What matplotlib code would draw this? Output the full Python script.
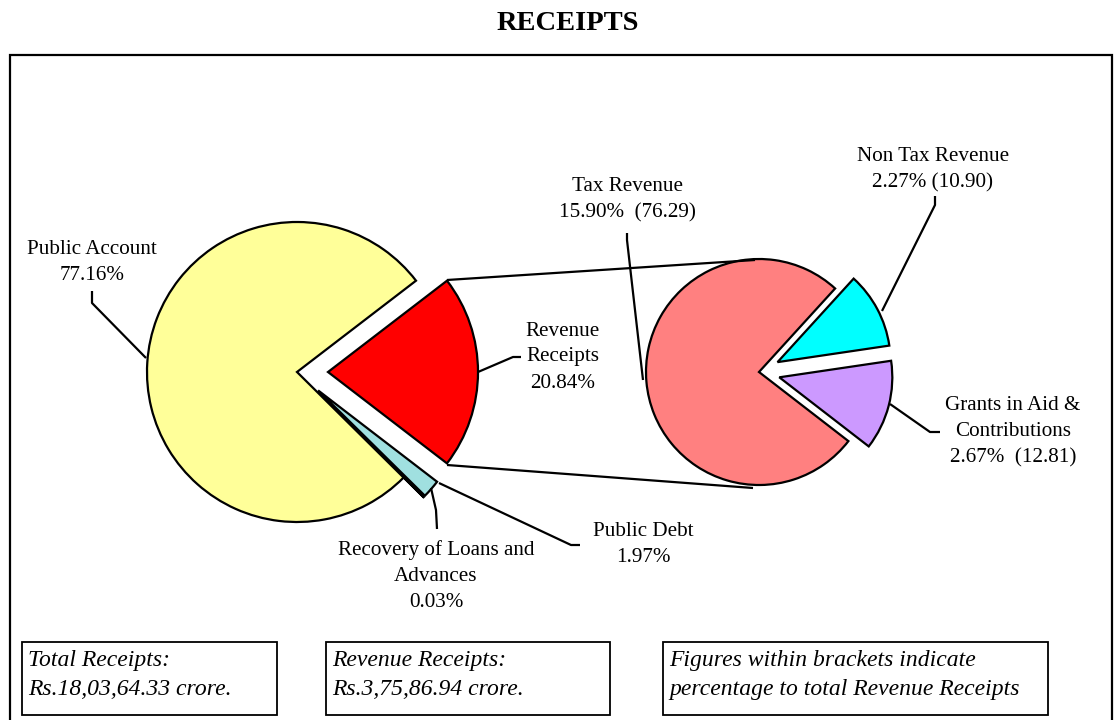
#!/usr/bin/env python3
"""Receipts: pie-of-pie breakdown of total receipts and revenue receipts."""

import matplotlib.pyplot as plt

plt.rcParams["font.family"] = ["Liberation Serif", "DejaVu Serif"]

W, H = 1114, 720

# Left pie: share of total receipts (%)
receipt_labels = ["Revenue\nReceipts", "Public Debt", "Recovery of Loans and\nAdvances", "Public Account"]
receipt_shares = [20.84, 1.97, 0.03, 77.16]
receipt_colors = ["#FF0000", "#A0E0E0", "#A0E0E0", "#FFFF99"]

# Right pie: split of revenue receipts
revenue_labels = ["Tax Revenue", "Non Tax Revenue", "Grants in Aid &\nContributions"]
revenue_pct_total = [15.90, 2.27, 2.67]      # % of total receipts
revenue_pct_revenue = [76.29, 10.90, 12.81]  # % of revenue receipts (brackets)
revenue_colors = ["#FF8080", "#00FFFF", "#CC99FF"]

boxes = [
    "Total Receipts:\nRs.18,03,64.33 crore.",
    "Revenue Receipts:\nRs.3,75,86.94 crore.",
    "Figures within brackets indicate\npercentage to total Revenue Receipts",
]


def py(y):
    # pixel row (from top) -> data y
    return H - y


def main() -> None:
    fig = plt.figure(figsize=(W / 100, H / 100), dpi=100)
    ax = fig.add_axes([0, 0, 1, 1])

    wedge_kw = dict(edgecolor="black", linewidth=1.6, joinstyle="miter")

    # left pie
    ax.pie(receipt_shares, colors=receipt_colors, explode=[31, 28, 28, 0],
           startangle=37.5, counterclock=False, center=(297, py(372)),
           radius=150, wedgeprops=wedge_kw, frame=True)

    # right pie
    ax.pie(revenue_pct_revenue, colors=revenue_colors, explode=[0, 21, 21],
           startangle=-37.7, counterclock=False, center=(759, py(372)),
           radius=113, wedgeprops=wedge_kw, frame=True)

    ax.set_xlim(0, W)
    ax.set_ylim(0, H)
    ax.set_aspect("auto")
    ax.axis("off")

    line_kw = dict(color="black", linewidth=1.6, solid_capstyle="butt")

    # connector lines between the pies
    ax.plot([447, 755], [py(280), py(260)], **line_kw)
    ax.plot([447, 753], [py(465), py(488)], **line_kw)

    # leader lines
    ax.plot([92, 92, 146], [py(291), py(303), py(358)], **line_kw)
    ax.plot([521, 513, 478], [py(357), py(357), py(372)], **line_kw)
    ax.plot([580, 571, 439], [py(545), py(545), py(483)], **line_kw)
    ax.plot([437, 436, 431], [py(529), py(510), py(488)], **line_kw)
    ax.plot([627, 627, 643], [py(233), py(240), py(380)], **line_kw)
    ax.plot([935, 935, 882], [py(196), py(205), py(311)], **line_kw)
    ax.plot([940, 930, 890], [py(432), py(432), py(404)], **line_kw)

    fs = 15.2
    txt = dict(ha="center", va="center", fontsize=fs, linespacing=1.5)
    ax.text(92, py(262), f"Public Account\n{receipt_shares[3]:.2f}%", **txt)
    ax.text(563, py(357), f"{receipt_labels[0]}\n{receipt_shares[0]:.2f}%", **txt)
    ax.text(643, py(545), f"{receipt_labels[1]}\n{receipt_shares[1]:.2f}%", **txt)
    ax.text(436, py(576), f"{receipt_labels[2]}\n{receipt_shares[2]:.2f}%", **txt)
    ax.text(627, py(200), f"{revenue_labels[0]}\n{revenue_pct_total[0]:.2f}%  ({revenue_pct_revenue[0]:.2f})", **txt)
    ax.text(933, py(170), f"{revenue_labels[1]}\n{revenue_pct_total[1]:.2f}% ({revenue_pct_revenue[1]:.2f})", **txt)
    ax.text(1013, py(432), f"{revenue_labels[2]}\n{revenue_pct_total[2]:.2f}%  ({revenue_pct_revenue[2]:.2f})", **txt)

    # title and outer frame
    ax.text(568, py(23), "RECEIPTS", ha="center", va="center",
            fontsize=20.5, fontweight="bold")
    ax.add_patch(plt.Rectangle((10, -10), 1102, py(55) + 10, fill=False,
                               edgecolor="black", linewidth=1.6))

    # note boxes
    box_pos = [(22, 277), (326, 610), (663, 1048)]
    for (x0, x1), text in zip(box_pos, boxes):
        ax.add_patch(plt.Rectangle((x0, py(715)), x1 - x0, 73, fill=False,
                                   edgecolor="black", linewidth=1.3))
        ax.text(x0 + 6, py(675), text, ha="left", va="center", fontsize=17,
                style="italic", linespacing=1.5)

    fig.savefig("out.png", dpi=100)


if __name__ == "__main__":
    main()
